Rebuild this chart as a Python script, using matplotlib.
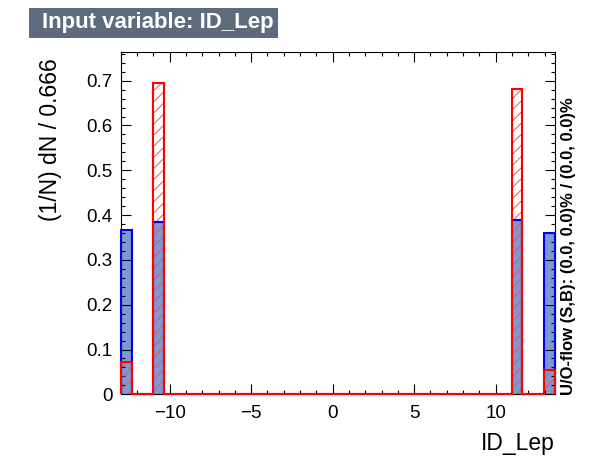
"""TMVA-style input variable plot for ID_Lep (signal vs background)."""

import matplotlib

matplotlib.use("Agg")
import matplotlib.pyplot as plt  # noqa: E402
import numpy as np  # noqa: E402
from matplotlib.patches import Rectangle  # noqa: E402
from matplotlib.ticker import FormatStrFormatter, MultipleLocator  # noqa: E402

VARIABLE = "ID_Lep"
BIN_LOW = -13.0
BIN_WIDTH = 0.666

# normalised (1/N) dN per bin, 40 bins
SIGNAL = [
    0.366, 0, 0, 0.384, 0, 0, 0, 0, 0, 0,
    0, 0, 0, 0, 0, 0, 0, 0, 0, 0,
    0, 0, 0, 0, 0, 0, 0, 0, 0, 0,
    0, 0, 0, 0, 0, 0, 0.390, 0, 0, 0.361,
]
BACKGROUND = [
    0.072, 0, 0, 0.695, 0, 0, 0, 0, 0, 0,
    0, 0, 0, 0, 0, 0, 0, 0, 0, 0,
    0, 0, 0, 0, 0, 0, 0, 0, 0, 0,
    0, 0, 0, 0, 0, 0, 0.681, 0, 0, 0.054,
]

SIG_FILL = "#7d99d1"
SIG_LINE = "#0000ee"
BKG_LINE = "#ff0000"
BKG_HATCH = "#ff4d4d"
TITLE_BOX = "#5d6b7d"

plt.rcParams["font.family"] = ["Liberation Sans", "DejaVu Sans"]
plt.rcParams["hatch.linewidth"] = 0.7

signal = np.array(SIGNAL)
background = np.array(BACKGROUND)
edges = BIN_LOW + BIN_WIDTH * np.arange(len(signal) + 1)

fig = plt.figure(figsize=(5.9, 4.58), dpi=100)
ax = fig.add_axes([0.2046, 0.139, 0.7361, 0.748])

# signal: filled, blue outline
ax.bar(edges[:-1], signal, width=BIN_WIDTH, align="edge", color=SIG_FILL, linewidth=0, zorder=1)
ax.stairs(signal, edges, color=SIG_LINE, linewidth=1.5, zorder=3, clip_on=False)

# background: red hatch, red outline
ax.bar(edges[:-1], background, width=BIN_WIDTH, align="edge", facecolor="none",
       edgecolor=BKG_HATCH, hatch="///", linewidth=0, zorder=2)
ax.stairs(background, edges, color=BKG_LINE, linewidth=1.5, zorder=3, clip_on=False)

ax.set_xlim(edges[0], edges[-1])
ax.set_ylim(0, background.max() * 1.1)

ax.xaxis.set_major_locator(MultipleLocator(5))
ax.xaxis.set_minor_locator(MultipleLocator(1))
ax.yaxis.set_major_locator(MultipleLocator(0.1))
ax.yaxis.set_minor_locator(MultipleLocator(0.02))
ax.yaxis.set_major_formatter(FormatStrFormatter("%g"))
ax.tick_params(which="both", direction="in", top=True, right=True, width=0.8, labelsize=13.5)
ax.tick_params(which="major", length=7)
ax.tick_params(which="minor", length=3)
ax.tick_params(axis="x", pad=8)
ax.tick_params(axis="y", pad=6)
for spine in ax.spines.values():
    spine.set_linewidth(0.8)

ax.set_xlabel(VARIABLE, fontsize=16.5, loc="right")
ax.xaxis.set_label_coords(1.0, -0.11)
ax.set_ylabel(f"(1/N) dN / {BIN_WIDTH:.3f}", fontsize=16.5, loc="top")
ax.yaxis.set_label_coords(-0.135, 0.982)

# title box
fig.patches.append(Rectangle((0.0492, 0.917), 0.422, 0.0655, transform=fig.transFigure,
                             facecolor=TITLE_BOX, edgecolor="none"))
fig.text(0.0707, 0.950, f"Input variable: {VARIABLE}", color="white", fontsize=16,
         fontweight="bold", va="center", ha="left")

fig.text(0.9644, 0.1376, "U/O-flow (S,B): (0.0, 0.0)% / (0.0, 0.0)%", rotation=90,
         fontsize=12, fontweight="bold", ha="center", va="bottom")

fig.savefig("out.png", dpi=100)
